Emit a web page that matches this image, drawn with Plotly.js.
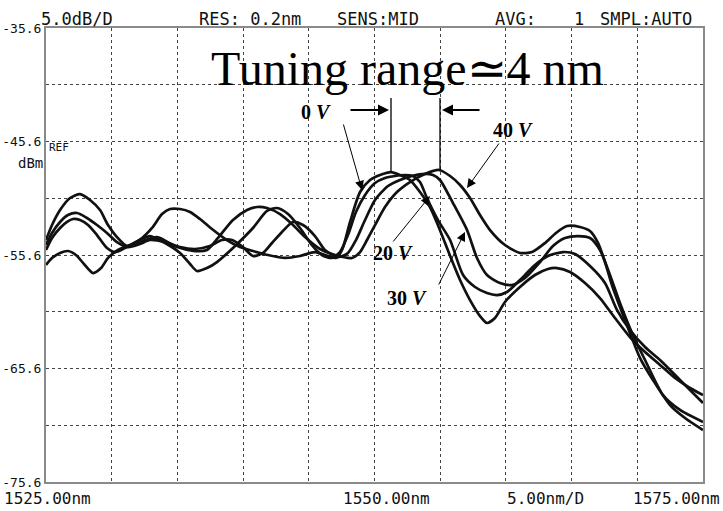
<!DOCTYPE html>
<html><head><meta charset="utf-8">
<script src="https://cdn.plot.ly/plotly-3.0.1.min.js"></script>
<style>html,body{margin:0;padding:0;background:#fff}#chart{width:723px;height:511px}</style>
</head><body><div id="chart"></div>
<script>
// ---- data (wavelength nm, power dBm) ----
const wl0 = [1525.00,1525.46,1526.07,1526.67,1527.28,1527.89,1528.58,1529.19,1529.72,1530.48,1531.39,1532.31,1533.07,1533.83,1534.44,1535.20,1535.96,1536.72,1537.63,1538.77,1539.76,1540.75,1541.89,1543.19,1544.33,1545.47,1546.46,1547.07,1547.53,1548.14,1548.90,1549.66,1550.42,1551.26,1551.94,1552.70,1553.46,1554.22,1554.76,1555.37,1555.97,1556.51,1557.27,1558.03,1558.56,1559.17,1559.93,1561.07,1562.21,1563.20,1563.89,1564.88,1566.02,1567.16,1568.30,1569.44,1570.59,1571.73,1572.87,1574.01,1575.00];
const p0  = [-56.48,-55.86,-55.42,-55.25,-55.60,-56.39,-57.19,-56.75,-55.86,-55.16,-54.72,-54.10,-53.22,-51.99,-51.55,-51.55,-51.81,-52.43,-53.31,-54.28,-54.90,-55.25,-55.60,-55.86,-55.69,-55.34,-55.69,-55.86,-55.16,-52.69,-50.05,-48.99,-48.55,-48.29,-48.55,-48.99,-50.05,-51.37,-52.78,-54.54,-56.31,-57.80,-59.57,-60.98,-61.59,-61.15,-59.74,-58.42,-57.36,-56.83,-56.75,-57.10,-58.07,-59.39,-61.15,-62.83,-64.15,-65.29,-66.44,-67.32,-67.94];

const wl20 = [1525.00,1525.46,1526.07,1526.60,1527.05,1527.59,1528.20,1528.88,1529.64,1530.25,1531.01,1532.15,1532.91,1534.06,1535.20,1535.96,1536.49,1537.25,1538.01,1539.23,1540.75,1541.82,1542.58,1543.42,1544.33,1545.24,1546.00,1546.77,1547.37,1547.98,1548.59,1549.28,1550.04,1550.80,1551.56,1552.32,1552.93,1553.46,1553.99,1554.83,1555.75,1556.74,1557.65,1558.56,1559.32,1560.08,1561.07,1562.21,1563.20,1564.35,1565.26,1566.40,1567.54,1568.46,1569.44,1570.59,1571.73,1573.25,1575.00];
const p20  = [-55.16,-54.10,-53.22,-52.69,-52.43,-52.52,-52.96,-53.84,-54.98,-55.34,-54.98,-54.28,-53.93,-54.54,-55.42,-56.39,-57.01,-56.75,-56.22,-54.98,-53.22,-51.72,-51.46,-51.99,-53.22,-54.72,-55.60,-55.86,-55.34,-53.84,-51.81,-50.31,-49.26,-48.82,-48.64,-48.55,-48.64,-49.17,-50.58,-52.52,-54.28,-57.36,-58.42,-58.95,-59.13,-58.86,-57.80,-56.48,-55.69,-55.34,-55.51,-56.57,-58.07,-60.45,-62.21,-63.71,-64.85,-66.61,-68.64];

const wl30 = [1525.00,1525.46,1526.07,1526.67,1527.36,1528.12,1528.88,1529.64,1530.40,1531.24,1532.15,1532.91,1534.06,1535.20,1536.34,1537.48,1538.39,1539.16,1539.99,1540.75,1541.51,1542.20,1542.96,1543.80,1544.56,1545.47,1546.23,1547.22,1547.98,1548.59,1549.28,1550.04,1551.03,1551.94,1552.85,1553.84,1554.45,1554.98,1555.97,1557.04,1557.80,1558.56,1559.55,1560.46,1561.45,1562.60,1563.58,1564.50,1565.49,1566.40,1567.16,1567.92,1568.68,1569.60,1570.59,1571.96,1573.25,1575.00];
const p30  = [-54.72,-53.66,-52.69,-52.08,-51.90,-52.34,-52.96,-53.66,-54.46,-54.90,-54.63,-54.28,-54.46,-54.90,-55.07,-54.81,-54.28,-54.28,-54.90,-55.69,-55.42,-54.54,-53.57,-52.69,-52.96,-53.93,-55.16,-55.78,-55.42,-54.28,-52.52,-50.75,-49.52,-48.99,-48.64,-48.46,-48.55,-48.99,-51.02,-53.40,-55.86,-57.36,-58.07,-58.24,-57.63,-56.22,-54.81,-54.10,-53.93,-54.10,-55.16,-57.36,-59.83,-62.47,-64.85,-67.94,-69.25,-70.31];

const wl40 = [1525.00,1525.46,1526.07,1526.83,1527.59,1528.35,1529.11,1529.72,1530.40,1531.16,1532.15,1533.45,1534.97,1536.34,1537.25,1538.09,1539.23,1540.30,1541.06,1541.82,1542.81,1543.72,1544.71,1545.85,1546.99,1548.29,1548.90,1549.43,1550.04,1550.80,1551.71,1552.70,1553.84,1554.91,1555.75,1556.51,1557.27,1558.03,1558.79,1559.93,1561.07,1561.99,1562.98,1563.81,1564.65,1565.64,1566.40,1567.01,1567.54,1568.07,1568.68,1569.44,1570.21,1571.19,1572.49,1573.63,1575.00];
const p40  = [-54.28,-52.96,-51.64,-50.58,-50.23,-50.75,-51.64,-52.96,-54.02,-54.81,-54.46,-54.02,-54.90,-55.25,-55.16,-54.10,-52.52,-51.64,-51.37,-51.46,-51.99,-52.87,-54.02,-55.07,-55.60,-55.86,-55.34,-54.28,-52.96,-51.37,-50.05,-49.17,-48.46,-48.11,-48.64,-49.43,-50.58,-52.08,-53.40,-54.72,-55.42,-55.34,-54.54,-53.66,-53.05,-53.13,-53.49,-54.54,-56.22,-58.24,-60.18,-62.47,-64.68,-66.61,-68.82,-69.96,-71.02];

// axis tick labels
const yTickVals = [-75.6,-70.6,-65.6,-60.6,-55.6,-50.6,-45.6,-40.6,-35.6];
const yTickText = ['-75.6','','-65.6','','-55.6','','-45.6','','-35.6'];
const headerTexts = ['5.0dB/D','RES: 0.2nm','SENS:MID','AVG:','1','SMPL:AUTO'];
const bottomTexts = ['1525.00nm','1550.00nm','5.00nm/D','1575.00nm'];
const seriesLabels = ['0 V','20 V','30 V','40 V'];
const titleText = 'Tuning range\u22434 nm';

// ---- layout helpers (pixel -> paper) ----
const L=46,R=703,T=28,B=482;
const fx = px => (px-L)/(R-L);
const fy = py => (B-py)/(B-T);

const mk = (x,y)=>({x:x,y:y,type:'scatter',mode:'lines',line:{color:'#111',width:2.7,shape:'spline',smoothing:0.7},hoverinfo:'skip',showlegend:false});
const data=[mk(wl0,p0),mk(wl20,p20),mk(wl30,p30),mk(wl40,p40)];

const mono='DejaVu Sans Mono, monospace';
const serif='Liberation Serif, Times New Roman, serif';
const ann=[];
const hdrX=[39,197,335,493,572,598];
headerTexts.forEach((t,i)=>ann.push({xref:'paper',yref:'paper',x:fx(hdrX[i]),y:fy(19),xanchor:'left',yanchor:'middle',text:t,showarrow:false,font:{family:mono,size:17,color:'#111'}}));
const botX=[2,341,505,631];
bottomTexts.forEach((t,i)=>ann.push({xref:'paper',yref:'paper',x:fx(botX[i]),y:fy(498),xanchor:'left',yanchor:'middle',text:t,showarrow:false,font:{family:mono,size:16,color:'#111'}}));
ann.push({xref:'paper',yref:'paper',x:fx(47),y:fy(148),xanchor:'left',yanchor:'middle',text:'REF',showarrow:false,font:{family:mono,size:11,color:'#111'}});
ann.push({xref:'paper',yref:'paper',x:fx(45),y:fy(163),xanchor:'right',yanchor:'middle',text:'dBm',showarrow:false,font:{family:mono,size:14,color:'#111'}});
ann.push({xref:'paper',yref:'paper',x:fx(407),y:fy(68),xanchor:'center',yanchor:'middle',text:titleText,showarrow:false,font:{family:serif,size:48,color:'#000'}});
// voltage labels
const lab=(t,px,py)=>{const p=t.split(' ');ann.push({xref:'paper',yref:'paper',x:fx(px),y:fy(py),xanchor:'center',yanchor:'middle',text:'<b>'+p[0]+' <i>'+p[1]+'</i></b>',showarrow:false,font:{family:serif,size:20,color:'#000'}});};
lab(seriesLabels[0],316,112);
lab(seriesLabels[1],393,253);
lab(seriesLabels[2],407,298);
lab(seriesLabels[3],513,130);
// arrows (head px, tail px)
const arr=(hx,hy,tx,ty,w,s)=>ann.push({xref:'paper',yref:'paper',x:fx(hx),y:fy(hy),ax:tx-hx,ay:ty-hy,text:'',showarrow:true,arrowhead:2,arrowsize:s,arrowwidth:w,arrowcolor:'#000',standoff:0,startstandoff:0});
arr(389,110,349,110,2,1.1);
arr(442,110,481,110,2,1.1);
arr(362,190,343,123,1,1.8);
arr(467,188,500,142,1,1.8);
arr(430,196,392,243,1,1.8);
arr(465,232,438,286,1,1.8);

const shapes=[
 {type:'line',xref:'paper',yref:'paper',x0:fx(391),x1:fx(391),y0:fy(98),y1:fy(172),line:{color:'#000',width:1.3}},
 {type:'line',xref:'paper',yref:'paper',x0:fx(440),x1:fx(440),y0:fy(98),y1:fy(170),line:{color:'#000',width:1.3}}
];

const layout={
 width:723,height:511,
 margin:{l:L,r:723-R,t:T,b:511-B,pad:0},
 paper_bgcolor:'#fff',plot_bgcolor:'#fff',
 showlegend:false,
 xaxis:{range:[1525,1575],tickmode:'linear',tick0:1525,dtick:5,showticklabels:false,ticks:'',
        showgrid:true,gridcolor:'#444',gridwidth:1,griddash:'dot',zeroline:false,
        showline:true,linecolor:'#8a8a8a',linewidth:2,mirror:true,fixedrange:true},
 yaxis:{range:[-75.6,-35.6],tickmode:'array',tickvals:yTickVals,ticktext:yTickText,ticks:'',
        tickfont:{family:mono,size:13,color:'#111'},
        showgrid:true,gridcolor:'#444',gridwidth:1,griddash:'dot',zeroline:false,
        showline:true,linecolor:'#8a8a8a',linewidth:2,mirror:true,fixedrange:true},
 annotations:ann,shapes:shapes
};
Plotly.newPlot('chart',data,layout,{staticPlot:true,displayModeBar:false});
</script></body></html>
